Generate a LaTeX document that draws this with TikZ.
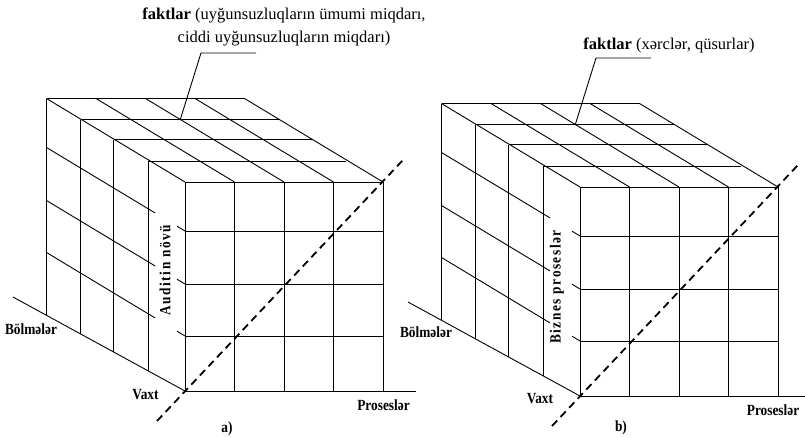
\documentclass[tikz,border=0pt]{standalone}
\usepackage{fontspec}
\setmainfont{Liberation Serif}
\newfontfamily\labelfont[FakeStretch=0.86]{Liberation Serif}
\tikzset{
  gridline/.style={line width=0.9pt},
  diagline/.style={line width=1.8pt, dash pattern=on 7.5pt off 5pt},
  axislabel/.style={font=\labelfont\bfseries\fontsize{15.5}{18}\selectfont, inner sep=0pt},
  vlabel/.style={font=\labelfont\bfseries\fontsize{15.5}{18}\selectfont\addfontfeature{LetterSpace=10}, rotate=90, inner sep=0pt},
  toplabel/.style={font=\fontsize{16.5}{23}\selectfont, align=center, inner sep=0pt},
}
\newcommand\cubegrid[1]{%
  % front face
  \foreach \x in {0,49.5,99,148.5,198} \draw[gridline] (\x,0) -- (\x,-209);
  \foreach \y in {0,-55,-107,-160,-209} \draw[gridline] (0,\y) -- (198,\y);
  % top face: layer edges
  \foreach \dx/\ty in {-37/-230,-71.5/-251.5,-104.5/-271.5,-138.5/-292.5}
    \draw[gridline] (\dx,\ty) -- ++(198,0);
  % top face: depth lines
  \foreach \x in {0,49.5,99,148.5,198} \draw[gridline] (\x-138.5,-292.5) -- (\x,-209);
  % left face: verticals
  \foreach \dx/\ty/\by in {-37/-230/-20.2,-71.5/-251.5/-39.1,-104.5/-271.5/-57.1,-138.5/-292.5/-75.7}
    \draw[gridline] (\dx,\ty) -- (\dx,\by);
  % left face: depth lines, broken for the vertical label
  \foreach \r in {-160,-107,-55} {
    \draw[gridline] (-138.5,\r-83.5) -- (-30,\r-18.1);
    \draw[gridline] (-8,\r-4.8) -- (0,\r);
  }
  % axes
  \coordinate (#1O) at (0,0);
  \coordinate (#1B) at (-172,-94);
  \draw[gridline] (#1B) -- (#1O);
  \coordinate (#1D1) at (-28,30);
  \coordinate (#1D2) at (218,-231);
  \draw[diagline] (#1D1) -- (#1D2);
  % leader
  \coordinate (#1P) at (-4.7,-271.5);
  \coordinate (#1L1) at (16,-338);
  \coordinate (#1L2) at (71,-338);
  \draw[gridline] (#1P) -- (#1L1) -- (#1L2);
}
\begin{document}
\begin{tikzpicture}[x=1pt,y=-1pt]
\useasboundingbox (0,0) rectangle (805,437);
% cube a
\begin{scope}[shift={(185,391)}]
  \cubegrid{a}
  \coordinate (aPe) at (231,0);
  \draw[gridline] (aO) -- (aPe);
  \node[axislabel] (abol) at (-154,-62) {Bölmələr};
  \node[axislabel] (avaxt) at (-39.5,4) {Vaxt};
  \node[axislabel] (apros) at (198.5,14) {Proseslər};
  \node[axislabel] (alet) at (42,38) {a)};
  \node[vlabel] (avert) at (-20,-121) {Auditin növü};
\end{scope}
% cube b
\begin{scope}[shift={(580,396)}]
  \cubegrid{b}
  \coordinate (bPe) at (226,0);
  \draw[gridline] (bO) -- (bPe);
  \node[axislabel] (bbol) at (-154,-64) {Bölmələr};
  \node[axislabel] (bvaxt) at (-40,3) {Vaxt};
  \node[axislabel] (bpros) at (193,14) {Proseslər};
  \node[axislabel] (blet) at (41,32) {b)};
  \node[vlabel] (bvert) at (-23,-109) {Biznes proseslər};
\end{scope}
\node[toplabel] (facta) at (284,27) {\textbf{faktlar} (uyğunsuzluqların ümumi miqdarı,\\ciddi uyğunsuzluqların miqdarı)};
\node[toplabel] (factb) at (669,45) {\textbf{faktlar} (xərclər, qüsurlar)};
\end{tikzpicture}
\end{document}
